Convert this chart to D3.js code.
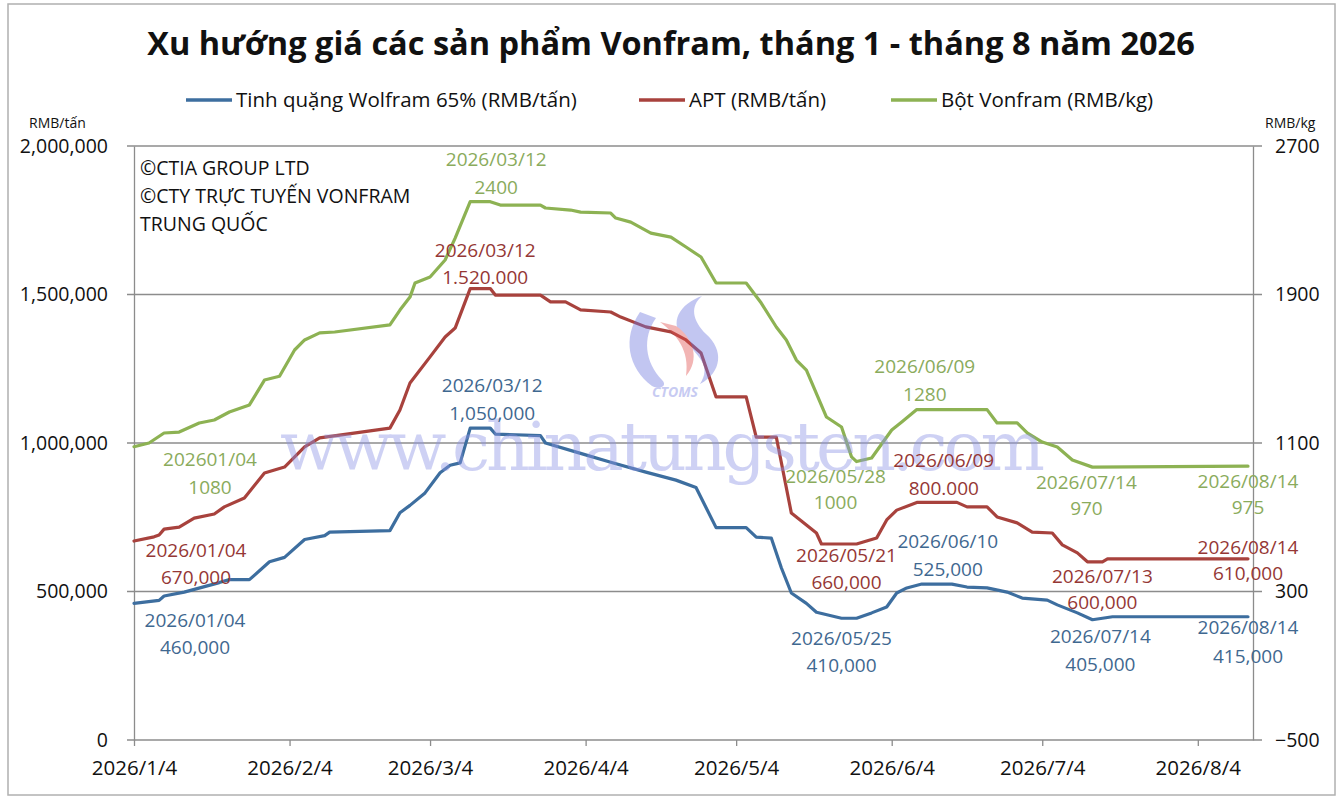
<!DOCTYPE html>
<html>
<head>
<meta charset="utf-8">
<script src="https://cdn.jsdelivr.net/npm/d3@7/dist/d3.min.js"></script>
<style>
  body { margin: 0; background: #fff; }
  svg text { font-family: "Open Sans", "Noto Sans", sans-serif; }
</style>
</head>
<body>
<div id="chart"></div>
<script>
// Series data
const oreSeries = [
  ["2026-01-04", 460000], ["2026-01-09", 470000], ["2026-01-10", 485000], ["2026-01-14", 498000],
  ["2026-01-21", 530000], ["2026-01-23", 540000], ["2026-01-27", 540000], ["2026-01-31", 600000],
  ["2026-02-03", 615000], ["2026-02-07", 675000], ["2026-02-11", 688000], ["2026-02-12", 700000],
  ["2026-02-24", 705000], ["2026-02-26", 765000], ["2026-02-28", 790000], ["2026-03-03", 832000],
  ["2026-03-06", 900000], ["2026-03-08", 925000], ["2026-03-10", 933000], ["2026-03-12", 1050000],
  ["2026-03-16", 1050000], ["2026-03-17", 1030000], ["2026-03-26", 1025000], ["2026-03-27", 1000000],
  ["2026-04-03", 965000], ["2026-04-09", 935000], ["2026-04-16", 902000], ["2026-04-22", 875000],
  ["2026-04-26", 850000], ["2026-04-30", 715000], ["2026-05-06", 715000], ["2026-05-08", 683000],
  ["2026-05-11", 680000], ["2026-05-13", 580000], ["2026-05-15", 495000], ["2026-05-18", 460000],
  ["2026-05-20", 430000], ["2026-05-25", 410000], ["2026-05-28", 410000], ["2026-05-31", 428000],
  ["2026-06-03", 448000], ["2026-06-05", 495000], ["2026-06-07", 512000], ["2026-06-10", 525000],
  ["2026-06-16", 525000], ["2026-06-19", 515000], ["2026-06-23", 512000], ["2026-06-27", 498000],
  ["2026-06-30", 478000], ["2026-07-05", 471000], ["2026-07-07", 455000], ["2026-07-11", 428000],
  ["2026-07-14", 405000], ["2026-07-18", 415000], ["2026-08-14", 415000]
];

const aptSeries = [
  ["2026-01-04", 670000], ["2026-01-08", 684000], ["2026-01-09", 690000], ["2026-01-10", 710000],
  ["2026-01-13", 717000], ["2026-01-16", 747000], ["2026-01-20", 761000], ["2026-01-22", 785000],
  ["2026-01-26", 815000], ["2026-01-30", 899000], ["2026-02-03", 919000], ["2026-02-07", 987000],
  ["2026-02-10", 1017000], ["2026-02-24", 1050000], ["2026-02-26", 1111000], ["2026-02-28", 1202000],
  ["2026-03-04", 1290000], ["2026-03-07", 1357000], ["2026-03-09", 1387000], ["2026-03-12", 1520000],
  ["2026-03-16", 1520000], ["2026-03-17", 1498000], ["2026-03-26", 1498000], ["2026-03-28", 1475000],
  ["2026-03-31", 1475000], ["2026-04-03", 1448000], ["2026-04-09", 1441000], ["2026-04-11", 1424000],
  ["2026-04-16", 1391000], ["2026-04-21", 1374000], ["2026-04-24", 1347000], ["2026-04-27", 1303000],
  ["2026-04-30", 1155000], ["2026-05-06", 1155000], ["2026-05-08", 1020000], ["2026-05-12", 1020000],
  ["2026-05-15", 764000], ["2026-05-20", 697000], ["2026-05-21", 660000], ["2026-05-28", 660000],
  ["2026-06-01", 680000], ["2026-06-03", 741000], ["2026-06-05", 774000], ["2026-06-09", 800000],
  ["2026-06-17", 800000], ["2026-06-19", 785000], ["2026-06-23", 785000], ["2026-06-25", 751000],
  ["2026-06-29", 731000], ["2026-07-02", 700000], ["2026-07-06", 697000], ["2026-07-08", 657000],
  ["2026-07-11", 630000], ["2026-07-13", 600000], ["2026-07-16", 600000], ["2026-07-17", 610000],
  ["2026-08-14", 610000]
];

const powderSeries = [
  ["2026-01-04", 1080], ["2026-01-07", 1100], ["2026-01-10", 1154], ["2026-01-13", 1159],
  ["2026-01-17", 1208], ["2026-01-20", 1224], ["2026-01-23", 1267], ["2026-01-27", 1305],
  ["2026-01-30", 1439], ["2026-02-02", 1460], ["2026-02-05", 1601], ["2026-02-07", 1655],
  ["2026-02-10", 1693], ["2026-02-13", 1698], ["2026-02-24", 1736], ["2026-02-26", 1816],
  ["2026-02-28", 1886], ["2026-03-01", 1962], ["2026-03-04", 1994], ["2026-03-07", 2086],
  ["2026-03-09", 2204], ["2026-03-12", 2400], ["2026-03-16", 2400], ["2026-03-18", 2382],
  ["2026-03-26", 2382], ["2026-03-27", 2366], ["2026-04-01", 2355], ["2026-04-03", 2344],
  ["2026-04-09", 2339], ["2026-04-10", 2312], ["2026-04-13", 2290], ["2026-04-17", 2231],
  ["2026-04-21", 2209], ["2026-04-24", 2156], ["2026-04-27", 2102], ["2026-04-30", 1962],
  ["2026-05-06", 1962], ["2026-05-09", 1854], ["2026-05-12", 1725], ["2026-05-14", 1655],
  ["2026-05-16", 1547], ["2026-05-18", 1493], ["2026-05-22", 1240], ["2026-05-25", 1186],
  ["2026-05-27", 1025], ["2026-05-28", 1000], ["2026-05-31", 1019], ["2026-06-04", 1170],
  ["2026-06-06", 1213], ["2026-06-09", 1280], ["2026-06-23", 1280], ["2026-06-25", 1208],
  ["2026-06-29", 1208], ["2026-07-01", 1154], ["2026-07-04", 1105], ["2026-07-07", 1078],
  ["2026-07-10", 1008], ["2026-07-14", 970], ["2026-08-14", 975]
];

// Callouts: date, value, date text, value text
const oreNotes = [
  ["2026-01-04", 460000, "2026/01/04", "460,000"],
  ["2026-03-12", 1050000, "2026/03/12", "1,050,000"],
  ["2026-05-25", 410000, "2026/05/25", "410,000"],
  ["2026-06-10", 525000, "2026/06/10", "525,000"],
  ["2026-07-14", 405000, "2026/07/14", "405,000"],
  ["2026-08-14", 415000, "2026/08/14", "415,000"]
];
const aptNotes = [
  ["2026-01-04", 670000, "2026/01/04", "670,000"],
  ["2026-03-12", 1520000, "2026/03/12", "1.520.000"],
  ["2026-05-21", 660000, "2026/05/21", "660,000"],
  ["2026-06-09", 800000, "2026/06/09", "800.000"],
  ["2026-07-13", 600000, "2026/07/13", "600,000"],
  ["2026-08-14", 610000, "2026/08/14", "610,000"]
];
const powderNotes = [
  ["2026-01-04", 1080, "202601/04", "1080"],
  ["2026-03-12", 2400, "2026/03/12", "2400"],
  ["2026-05-28", 1000, "2026/05/28", "1000"],
  ["2026-06-09", 1280, "2026/06/09", "1280"],
  ["2026-07-14", 970, "2026/07/14", "970"],
  ["2026-08-14", 975, "2026/08/14", "975"]
];

// label offsets from the point: dx, dy of date line, dy of value line
const oreNoteOffsets = [[61, 17, 44], [22, -43, -15], [0, 20, 47], [26, -43, -15], [8, 17, 45], [0, 11, 40]];
const aptNoteOffsets = [[62, 9, 36], [15, -38, -11], [25, 11, 38], [27, -42, -14], [15, 15, 41], [0, -11, 15]];
const powderNoteOffsets = [[76, 13, 41], [26, -42, -14], [-21, 15, 41], [8, -43, -15], [-6, 15, 41], [0, 15, 41]];

const xTickDates = ["2026-01-04", "2026-02-04", "2026-03-04", "2026-04-04", "2026-05-04", "2026-06-04", "2026-07-04", "2026-08-04"];
const leftTicks = [0, 500000, 1000000, 1500000, 2000000];
const rightTicks = [-500, 300, 1100, 1900, 2700];
const seriesNames = ["Tinh quặng Wolfram 65% (RMB/tấn)", "APT (RMB/tấn)", "Bột Vonfram (RMB/kg)"];

function drawChart() {
    const width = 1340;
    const height = 800;
    const parse = d3.timeParse("%Y-%m-%d");

    const lineColors = ["#3d6e9f", "#a8423d", "#8db253"];
    const textColors = ["#3f6890", "#953735", "#8aab5c"];

    const svg = d3.select("#chart")
        .append("svg")
        .attr("width", width)
        .attr("height", height);

    // outer frame
    svg.append("rect")
        .attr("x", 8).attr("y", 4)
        .attr("width", 1327).attr("height", 791)
        .attr("fill", "none")
        .attr("stroke", "#b0b0b0")
        .attr("stroke-width", 1.5);

    const x = d3.scaleTime()
        .domain([parse("2026-01-04"), parse("2026-08-15")])
        .range([134, 1253]);
    const yLeft = d3.scaleLinear().domain([0, 2000000]).range([740, 146]);
    const yRight = d3.scaleLinear().domain([-500, 2700]).range([740, 146]);

    // title
    svg.append("text")
        .attr("x", 671).attr("y", 55)
        .attr("text-anchor", "middle")
        .attr("font-size", 32.5)
        .attr("font-weight", "bold")
        .attr("fill", "#111")
        .text("Xu hướng giá các sản phẩm Vonfram, tháng 1 - tháng 8 năm 2026");

    // legend
    const legendX = [186, 639, 891];
    seriesNames.forEach((name, i) => {
        svg.append("line")
            .attr("x1", legendX[i]).attr("x2", legendX[i] + 46)
            .attr("y1", 100).attr("y2", 100)
            .attr("stroke", lineColors[i])
            .attr("stroke-width", 3.5);
        svg.append("text")
            .attr("x", legendX[i] + 50).attr("y", 100)
            .attr("dy", "0.35em")
            .attr("font-size", 20.5)
            .attr("fill", "#111")
            .text(name);
    });

    // unit labels
    svg.append("text").attr("x", 29).attr("y", 128)
        .attr("font-size", 14).attr("fill", "#111").text("RMB/tấn");
    svg.append("text").attr("x", 1265).attr("y", 128)
        .attr("font-size", 14).attr("fill", "#111").text("RMB/kg");

    // horizontal gridlines + left axis
    const grid = svg.append("g");
    leftTicks.forEach(t => {
        grid.append("line")
            .attr("x1", 127).attr("x2", 1262)
            .attr("y1", yLeft(t)).attr("y2", yLeft(t))
            .attr("stroke", "#8c8c8c")
            .attr("stroke-width", 1.3);
    });

    const leftAxis = svg.append("g")
        .attr("transform", "translate(134,0)")
        .call(d3.axisLeft(yLeft).tickValues(leftTicks).tickFormat(d3.format(",")).tickSize(0).tickPadding(26));
    leftAxis.select(".domain").attr("stroke", "#8c8c8c").attr("stroke-width", 1.3);
    leftAxis.selectAll("text").attr("font-size", 19.5).attr("fill", "#111")
        .style("font-family", "'Open Sans', sans-serif");

    const rightAxis = svg.append("g")
        .attr("transform", "translate(1253,0)")
        .call(d3.axisRight(yRight).tickValues(rightTicks).tickFormat(d3.format("d")).tickSize(0).tickPadding(22));
    rightAxis.select(".domain").attr("stroke", "#8c8c8c").attr("stroke-width", 1.3);
    rightAxis.selectAll("text").attr("font-size", 19.5).attr("fill", "#111")
        .style("font-family", "'Open Sans', sans-serif");

    const xAxis = svg.append("g")
        .attr("transform", "translate(0,740)")
        .call(d3.axisBottom(x)
            .tickValues(xTickDates.map(parse))
            .tickFormat(d3.timeFormat("%Y/%-m/%-d"))
            .tickSize(6).tickSizeOuter(0).tickPadding(14));
    xAxis.select(".domain").remove();
    xAxis.selectAll(".tick line").attr("stroke", "#8c8c8c").attr("stroke-width", 1.3);
    xAxis.selectAll("text").attr("font-size", 20.5).attr("fill", "#111")
        .style("font-family", "'Open Sans', sans-serif");

    // copyright block
    ["©CTIA GROUP LTD", "©CTY TRỰC TUYẾN VONFRAM", "TRUNG QUỐC"].forEach((t, i) => {
        svg.append("text")
            .attr("x", 140).attr("y", 175 + i * 28)
            .attr("font-size", 19.5)
            .attr("fill", "#111")
            .text(t);
    });

    // lines
    const allSeries = [
        { data: oreSeries, y: yLeft },
        { data: aptSeries, y: yLeft },
        { data: powderSeries, y: yRight }
    ];
    allSeries.forEach((s, i) => {
        const line = d3.line()
            .x(d => x(parse(d[0])))
            .y(d => s.y(d[1]));
        svg.append("path")
            .datum(s.data)
            .attr("d", line)
            .attr("fill", "none")
            .attr("stroke", lineColors[i])
            .attr("stroke-width", 3.2)
            .attr("stroke-linejoin", "round")
            .attr("stroke-linecap", "round");
    });

    // watermark (logo drawn as shapes, site name as faint text)
    const wm = svg.append("g").attr("opacity", 0.42);
    wm.append("path")
        .attr("d", "M640,312 C622,338 628,368 652,386 C660,390 668,386 662,380 C645,362 642,338 656,318 Z")
        .attr("fill", "#6f78e0");
    wm.append("path")
        .attr("d", "M702,296 C680,304 668,322 684,340 C698,356 712,366 700,384 C722,372 724,350 706,334 C692,320 690,306 702,296 Z")
        .attr("fill", "#6f78e0");
    wm.append("path")
        .attr("d", "M660,322 C676,334 690,350 686,376 C700,360 694,338 676,326 Z")
        .attr("fill", "#e2504e");
    wm.append("text")
        .attr("x", 675).attr("y", 397)
        .attr("text-anchor", "middle")
        .attr("font-size", 14)
        .attr("font-style", "italic")
        .attr("font-weight", "bold")
        .attr("fill", "#7b84e2")
        .text("CTOMS");
    wm.append("text")
        .attr("x", 280).attr("y", 470)
        .attr("font-size", 68)
        .attr("textLength", 765)
        .attr("fill", "#8d94e6")
        .style("font-family", "'DejaVu Serif', 'Liberation Serif', serif")
        .text("www.chinatungsten.com");

    // callout labels
    const noteSets = [
        { notes: oreNotes, offs: oreNoteOffsets, y: yLeft },
        { notes: aptNotes, offs: aptNoteOffsets, y: yLeft },
        { notes: powderNotes, offs: powderNoteOffsets, y: yRight }
    ];
    noteSets.forEach((set, i) => {
        set.notes.forEach((n, j) => {
            const px = x(parse(n[0]));
            const py = set.y(n[1]);
            const off = set.offs[j];
            [n[2], n[3]].forEach((t, k) => {
                svg.append("text")
                    .attr("x", px + off[0])
                    .attr("y", py + off[k + 1])
                    .attr("dy", "0.35em")
                    .attr("text-anchor", "middle")
                    .attr("font-size", 19)
                    .attr("fill", textColors[i])
                    .text(t);
            });
        });
    });
}

drawChart();
</script>
</body>
</html>
